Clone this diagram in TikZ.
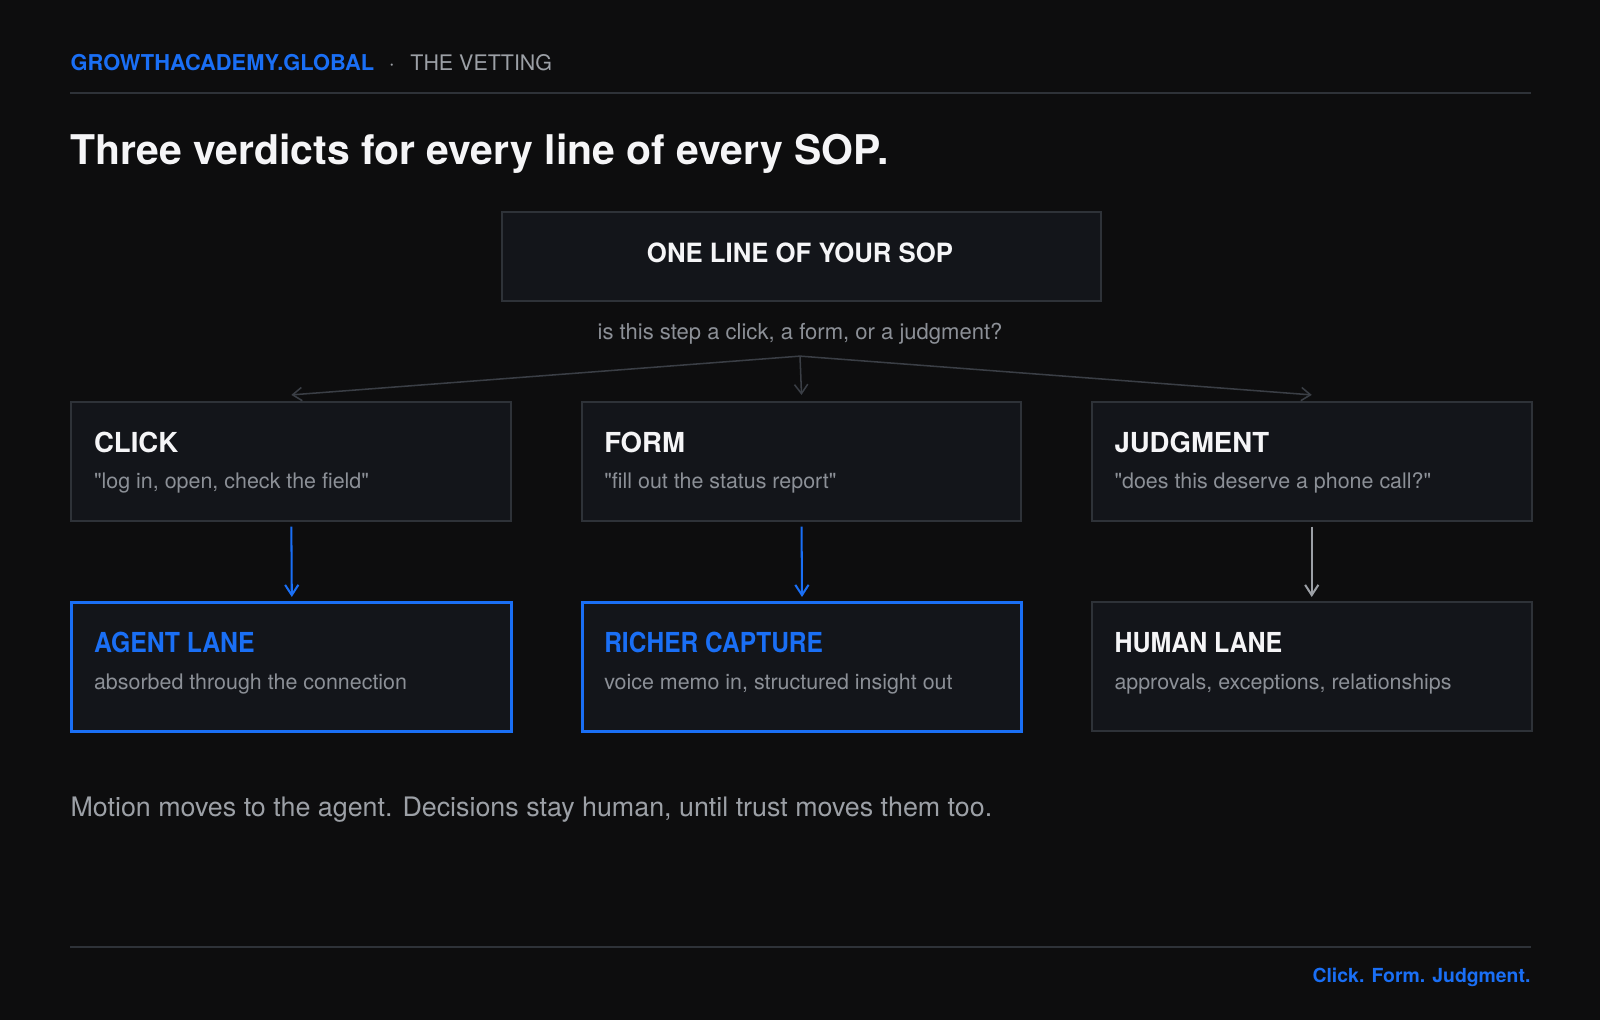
\documentclass[tikz,border=0pt]{standalone}
\usepackage{fontspec}
\usepackage{graphicx}
\setmainfont{TeX Gyre Heros}
\usetikzlibrary{arrows.meta}
\definecolor{bg}{HTML}{0D0D0E}
\definecolor{boxfill}{HTML}{13151A}
\definecolor{boxline}{HTML}{2E3238}
\definecolor{brand}{HTML}{1A6FF5}
\definecolor{txtgray}{HTML}{8C9097}
\definecolor{lightgray}{HTML}{9CA0A6}
\definecolor{white}{HTML}{F5F5F7}
\definecolor{connline}{HTML}{3A3E45}
\newcommand{\narrow}[2]{\scalebox{#1}[1]{#2}}
\begin{document}
\begin{tikzpicture}[x=1pt,y=-1pt,
  card/.style={draw=boxline,line width=2pt,fill=boxfill,rectangle,inner sep=0pt,minimum width=431pt,minimum height=117pt,anchor=north west},
  lanecard/.style={card,minimum height=126pt},
  bluecard/.style={lanecard,draw=brand,line width=3pt},
  lbl/.style={inner sep=0pt,anchor=base west},
  cardtitle/.style={lbl,font=\fontsize{27}{32}\selectfont\bfseries,text=white},
  cardsub/.style={lbl,font=\fontsize{21}{25}\selectfont,text=txtgray},
  fan/.style={draw=connline,line width=1.5pt,-{Straight Barb[length=9pt,width=13pt]}},
  down/.style={line width=2pt,-{Straight Barb[length=10pt,width=13pt]}}
]
\useasboundingbox[fill=bg] (0,0) rectangle (1568,1000);
% header
\node[lbl,font=\fontsize{21.4}{25}\selectfont\bfseries,text=brand] (brandname) at (69,69) {GROWTHACADEMY.GLOBAL};
\node[lbl,font=\fontsize{21}{25}\selectfont,text=lightgray] (dot) at (381,69) {·};
\node[lbl,font=\fontsize{21}{25}\selectfont,text=lightgray] (section) at (402,69) {THE VETTING};
\draw[boxline,line width=2pt] (69,91) -- (1500,91);
\node[lbl,font=\fontsize{40.1}{46}\selectfont\bfseries,text=white] (title) at (69,161) {Three verdicts for every line of every SOP.};
% top box
\node[card,minimum width=587pt,minimum height=87pt] (sop) at (491,207) {};
\node[inner sep=0pt,anchor=base,font=\fontsize{26}{30}\selectfont\bfseries,text=white] (soptxt) at (784,257) {\narrow{0.97}{ONE LINE OF YOUR SOP}};
\node[inner sep=0pt,anchor=base,font=\fontsize{21.6}{25}\selectfont,text=txtgray] (question) at (784,333) {is this step a click, a form, or a judgment?};
\coordinate (hub) at (784,349);
% middle row
\node[card] (click) at (69,393) {};
\node[card] (form) at (569,393) {};
\node[card] (judg) at (1069,393) {};
\node[cardtitle] (clickt) at (92,443) {CLICK};
\node[cardsub] (clicks) at (92,479) {\textquotedbl log in, open, check the field\textquotedbl};
\node[cardtitle] (formt) at (592,443) {FORM};
\node[cardsub] (forms) at (592,479) {\textquotedbl fill out the status report\textquotedbl};
\node[cardtitle] (judgt) at (1092,443) {JUDGMENT};
\node[cardsub] (judgs) at (1092,479) {\textquotedbl does this deserve a phone call?\textquotedbl};
% fan connectors
\draw[fan] (hub) -- ([yshift=6pt]click.north);
\draw[fan] (hub) -- ([yshift=6pt]form.north);
\draw[fan] (hub) -- ([yshift=6pt]judg.north);
% bottom row
\node[bluecard] (agent) at (69,589) {};
\node[bluecard] (richer) at (569,589) {};
\node[lanecard] (human) at (1069,589) {};
\node[cardtitle,text=brand] (agentt) at (92,639) {\narrow{0.9}{AGENT LANE}};
\node[cardsub] (agents) at (92,676) {absorbed through the connection};
\node[cardtitle,text=brand] (richert) at (592,639) {\narrow{0.89}{RICHER CAPTURE}};
\node[cardsub] (richers) at (592,676) {voice memo in, structured insight out};
\node[cardtitle] (humant) at (1092,639) {\narrow{0.905}{HUMAN LANE}};
\node[cardsub] (humans) at (1092,676) {approvals, exceptions, relationships};
% down arrows
\draw[down,brand,shorten <=4pt,shorten >=4pt] (click.south) -- (agent.north);
\draw[down,brand,shorten <=4pt,shorten >=4pt] (form.south) -- (richer.north);
\draw[down,lightgray,shorten <=4pt,shorten >=4pt] (judg.south) -- (human.north);
% footer
\node[lbl,font=\fontsize{26.3}{30}\selectfont,text=lightgray] (motto) at (69,800) {Motion moves to the agent. Decisions stay human, until trust moves them too.};
\draw[boxline,line width=2pt] (69,928) -- (1500,928);
\node[inner sep=0pt,anchor=base east,font=\fontsize{19}{23}\selectfont\bfseries,text=brand] (tag) at (1500,963) {Click. Form. Judgment.};
\end{tikzpicture}
\end{document}
